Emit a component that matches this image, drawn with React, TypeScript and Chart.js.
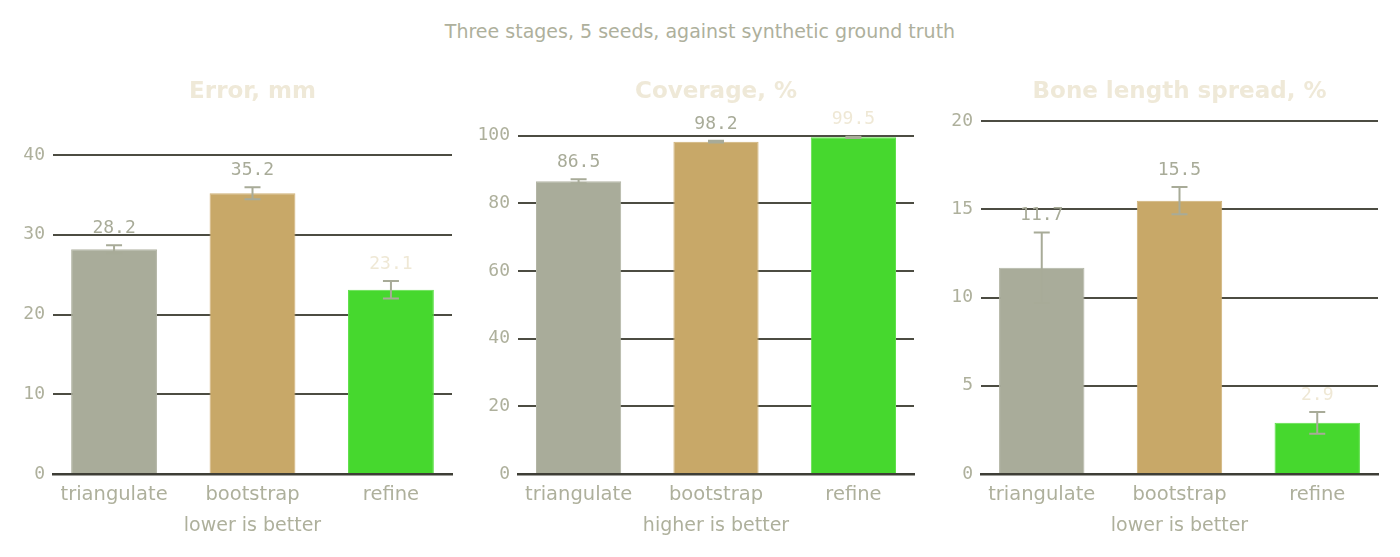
import React, { useEffect, useRef } from 'react';
import { Chart, registerables } from 'chart.js';

Chart.register(...registerables);

// ---- data ----
const categories = ['triangulate', 'bootstrap', 'refine'];

const errorMm = [28.2, 35.2, 23.1];
const errorMmSd = [0.5, 0.75, 1.1];

const coverage = [86.5, 98.2, 99.5];
const coverageSd = [0.6, 0.25, 0.2];

const boneSpread = [11.7, 15.5, 2.9];
const boneSpreadSd = [2.0, 0.77, 0.62];

const errorTicks = [0, 10, 20, 30, 40];
const coverageTicks = [0, 20, 40, 60, 80, 100];
const boneTicks = [0, 5, 10, 15, 20];

const mainTitle = 'Three stages, 5 seeds, against synthetic ground truth';
const panelTitles = ['Error, mm', 'Coverage, %', 'Bone length spread, %'];
const axisNotes = ['lower is better', 'higher is better', 'lower is better'];

// ---- styles ----
const barColors = ['#a9ac9a', '#c8a868', '#46d82e'];
const barEdges = ['#b3b5a5', '#d0b277', '#5fe04a'];
const labelColors = ['#a8ab98', '#a8ab98', '#efe8d5'];
const textColor = '#aeb09c';
const titleColor = '#efe9d8';
const errColor = '#a8ab98';
const gridColor = '#4c4c42';
const baseColor = '#3e3e36';

type PanelSpec = {
  values: number[];
  errors: number[];
  ticks: number[];
  yMax: number;
  title: string;
  note: string;
  left: number;
  width: number;
  yAxisWidth: number;
  padRight: number;
};

const panels: PanelSpec[] = [
  { values: errorMm, errors: errorMmSd, ticks: errorTicks, yMax: 44.9, title: panelTitles[0], note: axisNotes[0], left: 0, width: 466, yAxisWidth: 53, padRight: 14 },
  { values: coverage, errors: coverageSd, ticks: coverageTicks, yMax: 105.8, title: panelTitles[1], note: axisNotes[1], left: 466, width: 466, yAxisWidth: 52, padRight: 18 },
  { values: boneSpread, errors: boneSpreadSd, ticks: boneTicks, yMax: 20.3, title: panelTitles[2], note: axisNotes[2], left: 932, width: 468, yAxisWidth: 49, padRight: 22 },
];

const HEIGHT = 557;
const PLOT_TOP = 116;
const PLOT_BOTTOM = 474;

const overlayPlugin = {
  id: 'overlay',
  afterDatasetsDraw(chart: any, _args: any, opts: any) {
    const ctx: CanvasRenderingContext2D = chart.ctx;
    const meta = chart.getDatasetMeta(0);
    const ys = chart.scales.y;
    const vals: number[] = opts.values;
    const errs: number[] = opts.errors;
    ctx.save();
    meta.data.forEach((bar: any, i: number) => {
      const x = bar.x;
      const top = ys.getPixelForValue(vals[i] + errs[i]);
      const bot = ys.getPixelForValue(vals[i] - errs[i]);
      ctx.strokeStyle = errColor;
      ctx.lineWidth = 2;
      ctx.beginPath();
      ctx.moveTo(x, top);
      ctx.lineTo(x, bot);
      ctx.moveTo(x - 8, top);
      ctx.lineTo(x + 8, top);
      ctx.moveTo(x - 8, bot);
      ctx.lineTo(x + 8, bot);
      ctx.stroke();
      ctx.fillStyle = labelColors[i];
      ctx.font = '18px "DejaVu Sans Mono"';
      ctx.textAlign = 'center';
      ctx.textBaseline = 'middle';
      ctx.fillText(vals[i].toFixed(1), x, top - 17);
    });
    const ca = chart.chartArea;
    ctx.fillStyle = titleColor;
    ctx.font = 'bold 23px "DejaVu Sans"';
    ctx.textAlign = 'center';
    ctx.textBaseline = 'middle';
    ctx.fillText(opts.title, (ca.left + ca.right) / 2, 92);
    ctx.restore();
  },
};

function Panel({ spec }: { spec: PanelSpec }) {
  const ref = useRef<HTMLCanvasElement>(null);
  useEffect(() => {
    if (!ref.current) return;
    const chart = new Chart(ref.current, {
      type: 'bar',
      data: {
        datasets: [
          {
            data: spec.values.map((v, i) => ({ x: i, y: v })),
            backgroundColor: barColors,
            borderColor: barEdges,
            borderWidth: 1,
            barPercentage: 0.62,
            categoryPercentage: 1,
          },
        ],
      },
      options: {
        animation: false,
        responsive: false,
        devicePixelRatio: 1,
        layout: { padding: { top: PLOT_TOP, right: spec.padRight, left: 0, bottom: 0 } },
        plugins: {
          legend: { display: false },
          tooltip: { enabled: false },
          title: { display: false },
          overlay: { values: spec.values, errors: spec.errors, title: spec.title },
        } as any,
        scales: {
          x: {
            type: 'linear',
            min: -0.441,
            max: 2.441,
            offset: false,
            z: 1,
            afterBuildTicks: (scale: any) => {
              scale.ticks = categories.map((_, i) => ({ value: i }));
            },
            afterFit: (scale: any) => {
              scale.height = HEIGHT - PLOT_BOTTOM;
            },
            grid: { display: false, drawTicks: false, offset: false },
            border: { display: true, color: baseColor, width: 2.5 },
            ticks: {
              padding: 9,
              color: textColor,
              font: { family: '"DejaVu Sans"', size: 19.5 },
              callback: (v: any) => categories[Number(v)] ?? '',
              autoSkip: false,
              maxRotation: 0,
            },
            title: {
              display: true,
              text: spec.note,
              color: textColor,
              font: { family: '"DejaVu Sans"', size: 19 },
              padding: { top: 0, bottom: 20 },
            },
          },
          y: {
            type: 'linear',
            min: 0,
            max: spec.yMax,
            afterBuildTicks: (scale: any) => {
              scale.ticks = spec.ticks.map((t) => ({ value: t }));
            },
            afterFit: (scale: any) => {
              scale.width = spec.yAxisWidth;
            },
            grid: { color: gridColor, lineWidth: 2, drawTicks: false },
            border: { display: false },
            ticks: {
              padding: 8,
              color: textColor,
              font: { family: '"DejaVu Sans Mono"', size: 18 },
            },
          },
        },
      } as any,
      plugins: [overlayPlugin],
    });
    return () => chart.destroy();
  }, [spec]);
  return (
    <canvas
      ref={ref}
      width={spec.width}
      height={HEIGHT}
      style={{ position: 'absolute', left: spec.left, top: 0, width: spec.width, height: HEIGHT }}
    />
  );
}

export default function App() {
  return (
    <div style={{ position: 'fixed', left: 0, top: 0, width: 1400, height: HEIGHT, background: '#ffffff', overflow: 'hidden' }}>
      <div
        style={{
          position: 'absolute',
          left: 0,
          top: 19,
          width: 1400,
          textAlign: 'center',
          fontFamily: '"DejaVu Sans"',
          fontSize: 19,
          lineHeight: '24px',
          color: textColor,
        }}
      >
        {mainTitle}
      </div>
      {panels.map((p, i) => (
        <Panel key={i} spec={p} />
      ))}
    </div>
  );
}
